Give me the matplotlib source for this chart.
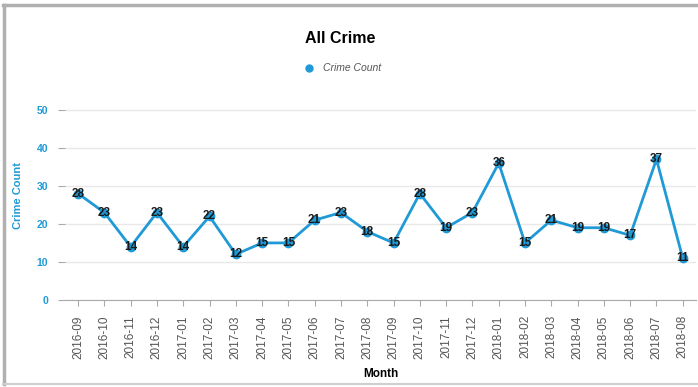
import matplotlib
matplotlib.use("Agg")
import matplotlib.pyplot as plt
from matplotlib.lines import Line2D

plt.rcParams["font.family"] = ["Liberation Sans", "DejaVu Sans"]

months = ["2016-09", "2016-10", "2016-11", "2016-12", "2017-01", "2017-02",
          "2017-03", "2017-04", "2017-05", "2017-06", "2017-07", "2017-08",
          "2017-09", "2017-10", "2017-11", "2017-12", "2018-01", "2018-02",
          "2018-03", "2018-04", "2018-05", "2018-06", "2018-07", "2018-08"]
crime_count = [28, 23, 14, 23, 14, 22, 12, 15, 15, 21, 23, 18,
               15, 28, 19, 23, 36, 15, 21, 19, 19, 17, 37, 11]
y_ticks = [0, 10, 20, 30, 40, 50]

blue = "#1f9ad6"

fig = plt.figure(figsize=(6.98, 3.87), dpi=100)
ax = fig.add_axes([0.093, 0.225, 0.904, 0.54])

x = list(range(len(months)))
ax.plot(x, crime_count, color=blue, lw=2, marker="o", ms=6, zorder=3)
for xi, v in zip(x, crime_count):
    ax.text(xi, v, str(v), ha="center", va="center", fontsize=8.5,
            fontweight="bold", color="#1a1a1a", zorder=4)

ax.set_xlim(-0.5, len(months) - 0.5)
ax.set_ylim(0, 55)
ax.set_yticks(y_ticks)
ax.set_xticks(x)
ax.set_xticklabels(months, rotation=90, fontsize=8.5, color="#555555")
for lbl in ax.get_yticklabels():
    lbl.set_color(blue)
    lbl.set_fontweight("bold")
    lbl.set_fontsize(7.5)
ax.tick_params(axis="y", length=5, color="#aaaaaa", pad=7)
ax.tick_params(axis="x", length=4, color="#aaaaaa", pad=7)

ax.grid(axis="y", color="#e8e8e8", lw=1)
ax.set_axisbelow(True)
for side in ["top", "right", "left"]:
    ax.spines[side].set_visible(False)
ax.spines["bottom"].set_color("#aaaaaa")

ax.set_ylabel("Crime Count", color=blue, fontweight="bold", fontsize=8, labelpad=10)
ax.set_xlabel("Month", fontweight="bold", fontsize=8.5, labelpad=7)

fig.text(0.487, 0.9, "All Crime", ha="center", va="center", fontsize=11.5, fontweight="bold")
handle = Line2D([], [], color=blue, marker="o", ls="none", ms=5)
fig.legend([handle], ["Crime Count"], loc="center", bbox_to_anchor=(0.487, 0.823),
           frameon=False, prop={"style": "italic", "size": 7.5}, labelcolor="#555555",
           handletextpad=0.3)

# grey frame around the panel
frame = dict(color="#b0b0b0", lw=2.5, transform=fig.transFigure)
fig.add_artist(Line2D([0.005, 1.0], [0.987, 0.987], **frame))
fig.add_artist(Line2D([0.006, 0.006], [0.008, 0.987], **frame))
fig.add_artist(Line2D([0.005, 1.0], [0.008, 0.008], color="#cfcfcf", lw=1.5,
                      transform=fig.transFigure))

fig.savefig("out.png", dpi=100)
